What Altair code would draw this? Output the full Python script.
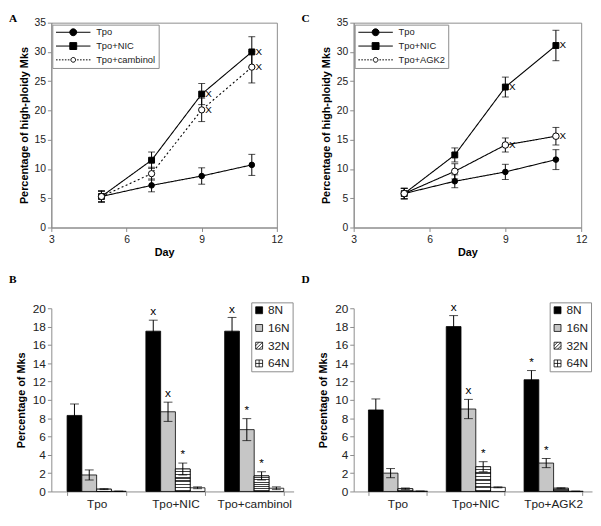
import altair as alt
import pandas as pd

SANS = "Liberation Sans"
SERIF = "Liberation Serif"
GRAY = "#8c8c8c"

# ---------------- Panels A / C : line charts ----------------
days = [5, 7, 9, 11]

A_series = ["Tpo", "Tpo+NIC", "Tpo+cambinol"]
A_tpo = [5.3, 7.2, 8.8, 10.7]
A_tpo_err = [1.0, 1.1, 1.4, 1.8]
A_nic = [5.3, 11.5, 22.8, 30.0]
A_nic_err = [0.9, 1.4, 1.8, 2.6]
A_cam = [5.3, 9.2, 20.1, 27.4]
A_cam_err = [0.9, 1.1, 2.0, 2.7]
A_sig_day = [9, 9, 11, 11]
A_sig_val = [22.8, 20.1, 30.0, 27.4]

C_series = ["Tpo", "Tpo+NIC", "Tpo+AGK2"]
C_tpo = [5.8, 7.9, 9.5, 11.6]
C_tpo_err = [0.9, 1.1, 1.3, 1.7]
C_nic = [5.8, 12.4, 24.0, 31.1]
C_nic_err = [0.9, 1.2, 1.7, 2.6]
C_agk = [5.8, 9.6, 14.1, 15.6]
C_agk_err = [0.9, 1.3, 1.2, 1.5]
C_sig_day = [9, 9, 11, 11]
C_sig_val = [24.0, 14.1, 31.1, 15.6]

line_ticks_x = [3, 6, 9, 12]
line_ticks_y = [0, 5, 10, 15, 20, 25, 30, 35]

# ---------------- Panels B / D : grouped bars ----------------
ploidy = ["8N", "16N", "32N", "64N"]

B_groups = ["Tpo", "Tpo+NIC", "Tpo+cambinol"]
B_means = [[8.3, 1.8, 0.25, 0.02], [17.5, 8.7, 2.45, 0.4], [17.5, 6.75, 1.7, 0.35]]
B_errs = [[1.25, 0.55, 0.05, 0.0], [1.2, 1.05, 0.65, 0.1], [1.5, 1.2, 0.45, 0.15]]
B_ann_group = ["Tpo+NIC", "Tpo+NIC", "Tpo+NIC", "Tpo+cambinol", "Tpo+cambinol", "Tpo+cambinol"]
B_ann_ploidy = ["8N", "16N", "32N", "8N", "16N", "32N"]
B_ann_text = ["x", "x", "*", "x", "*", "*"]

D_groups = ["Tpo", "Tpo+NIC", "Tpo+AGK2"]
D_means = [[8.9, 2.0, 0.3, 0.03], [18.0, 9.0, 2.7, 0.45], [12.2, 3.1, 0.35, 0.02]]
D_errs = [[1.2, 0.5, 0.08, 0.0], [1.2, 1.05, 0.55, 0.05], [1.0, 0.5, 0.05, 0.0]]
D_ann_group = ["Tpo+NIC", "Tpo+NIC", "Tpo+NIC", "Tpo+AGK2", "Tpo+AGK2"]
D_ann_ploidy = ["8N", "16N", "32N", "8N", "16N"]
D_ann_text = ["x", "x", "*", "*", "*"]

bar_ticks_y = [0, 2, 4, 6, 8, 10, 12, 14, 16, 18, 20]


def circle_path(cx, r):
    k = 0.5523 * r
    return (f"M{cx + r},0C{cx + r},{k} {cx + k},{r} {cx},{r}"
            f"C{cx - k},{r} {cx - r},{k} {cx - r},0"
            f"C{cx - r},{-k} {cx - k},{-r} {cx},{-r}"
            f"C{cx + k},{-r} {cx + r},{-k} {cx + r},0Z")


# legend symbol paths (line stub + marker), drawn in symbol units
LINE_PATHS = [
    "M-1,0H7.75" + circle_path(3.375, 0.875),
    "M-1,0H7.75M2.5,-0.875H4.25V0.875H2.5Z",
    "M-1,0H-0.6M-0.25,0H0.15M0.5,0H0.9M1.25,0H1.65M2.0,0H2.4M4.35,0H4.75M5.1,0H5.5"
    "M5.85,0H6.25M6.6,0H7.0M7.35,0H7.75" + circle_path(3.375, 0.6),
]
BAR_PATHS = [
    "M-1,-1H1V1H-1Z",
    "M-1,-1H1V1H-1Z",
    "M-1,-1H1V1H-1ZM-1,0L0,-1M-1,1L1,-1M0,1L1,0",
    "M-1,-1H1V1H-1ZM0,-1V1M-1,0H1",
]
BAR_FILLS = ["black", "#c6c6c6", "white", "white"]

# hatch-like gradient for the 32N bars
stops = []
n_str = 7
for i in range(n_str):
    a = i / n_str
    b = (i + 0.55) / n_str
    c = (i + 1) / n_str
    stops += [alt.GradientStop(color="white", offset=a), alt.GradientStop(color="white", offset=b),
              alt.GradientStop(color="#404040", offset=b), alt.GradientStop(color="#404040", offset=c)]
HATCH = alt.LinearGradient(gradient="linear", stops=stops, x1=0, y1=0, x2=0, y2=1)


def letter_layer(letter, dx, dy):
    return alt.Chart(pd.DataFrame({"t": [letter]})).mark_text(
        align="left", baseline="top", font=SERIF, fontWeight="bold", fontSize=11.5, color="black"
    ).encode(x=alt.value(dx), y=alt.value(dy), text="t:N")


def line_panel(letter, series, means, errs, sig_day, sig_val, width, height, letter_dx):
    rows = []
    for s, m, e in zip(series, means, errs):
        for d, v, er in zip(days, m, e):
            rows.append({"day": d, "series": s, "value": v, "lo": v - er, "hi": v + er})
    df = pd.DataFrame(rows)
    sig = pd.DataFrame({"day": sig_day, "value": sig_val, "lab": ["X"] * len(sig_day)})

    xaxis = alt.Axis(values=line_ticks_x, labelFlush=False, grid=False, tickSize=4, labelPadding=3,
                     titlePadding=2, title="Day", labelFontSize=10.5)
    yaxis = alt.Axis(values=line_ticks_y, grid=False, tickSize=4, labelPadding=2, titlePadding=5,
                     title="Percentage of high-ploidy Mks", labelFontSize=10.5)
    xs = alt.Scale(domain=[3, 12], nice=False, zero=False)
    ys = alt.Scale(domain=[0, 35], nice=False)

    def X(f):
        return alt.X(f"{f}:Q", scale=xs, axis=xaxis)

    def Y(f):
        return alt.Y(f"{f}:Q", scale=ys, axis=yaxis)

    base = alt.Chart(df)
    rule = base.mark_rule(color="black", strokeWidth=1).encode(x=X("day"), y=Y("lo"), y2="hi:Q")
    cap_lo = base.mark_tick(orient="horizontal", color="black", size=7, thickness=1).encode(x=X("day"), y=Y("lo"))
    cap_hi = base.mark_tick(orient="horizontal", color="black", size=7, thickness=1).encode(x=X("day"), y=Y("hi"))
    lines = base.mark_line(color="black", strokeWidth=1.1).encode(
        x=X("day"), y=Y("value"), detail="series:N",
        strokeDash=alt.StrokeDash("series:N", scale=alt.Scale(domain=series, range=[[1, 0], [1, 0], [2, 2.5]]),
                                  legend=None),
    )
    pts = base.mark_point(stroke="black", strokeWidth=1, opacity=1).encode(
        x=X("day"), y=Y("value"),
        shape=alt.Shape("series:N", scale=alt.Scale(domain=series, range=["circle", "square", "circle"]), legend=None),
        fill=alt.Fill("series:N", scale=alt.Scale(domain=series, range=["black", "black", "white"]), legend=None),
        size=alt.Size("series:N", scale=alt.Scale(domain=series, range=[32, 44, 26]), legend=None),
    )
    sigt = alt.Chart(sig).mark_text(dx=7, fontSize=10, font=SANS, color="black").encode(
        x=X("day"), y=Y("value"), text="lab:N")

    leg = alt.Legend(title=None, orient="none", legendX=1, legendY=2, fillColor="white", strokeColor=GRAY,
                     padding=3, rowPadding=2, labelFont=SANS, labelFontSize=9.5, labelColor="#222",
                     labelOffset=32, symbolStrokeColor="black", symbolStrokeWidth=1, symbolSize=64,
                     symbolOpacity=1)
    legl = base.transform_calculate(leg="datum.series").transform_filter("false").mark_point(
        size=64, strokeWidth=1, opacity=1
    ).encode(
        shape=alt.Shape("leg:N", scale=alt.Scale(domain=series, range=LINE_PATHS), legend=leg),
        fill=alt.Fill("leg:N", scale=alt.Scale(domain=series, range=["black", "black", "white"]), legend=leg),
        stroke=alt.Stroke("leg:N", scale=alt.Scale(domain=series, range=["black", "black", "black"]), legend=leg),
    )
    return alt.layer(rule, cap_lo, cap_hi, lines, pts, sigt, legl, letter_layer(letter, letter_dx, -10)).resolve_scale(
        shape="independent", fill="independent", stroke="independent"
    ).properties(width=width, height=height, view=alt.ViewBackground(stroke=GRAY, strokeWidth=1))


def bar_panel(letter, groups, means, errs, ann_g, ann_p, ann_t, width, height, letter_dx,
              pad_in, pad_out, band_align, leg_x):
    rows = []
    for g, m, e in zip(groups, means, errs):
        for p, v, er in zip(ploidy, m, e):
            rows.append({"group": g, "ploidy": p, "value": v, "lo": v - er, "hi": v + er})
    df = pd.DataFrame(rows)
    ann = pd.DataFrame({"group": ann_g, "ploidy": ann_p, "lab": ann_t}).merge(df, on=["group", "ploidy"])

    xaxis = alt.Axis(title=None, labelAngle=0, tickBand="extent", tickSize=4, labelPadding=3, grid=False,
                     labelFontSize=12)
    yaxis = alt.Axis(values=bar_ticks_y, grid=False, tickSize=4, labelPadding=2, titlePadding=6,
                     title="Percentage of Mks", labelFontSize=12)
    xs = alt.Scale(domain=groups, paddingInner=pad_in, paddingOuter=pad_out, align=band_align)
    xo = alt.XOffset("ploidy:N", scale=alt.Scale(domain=ploidy, paddingInner=0, paddingOuter=0))
    ys = alt.Scale(domain=[0, 20], nice=False)

    X = alt.X("group:N", scale=xs, axis=xaxis)

    def Y(f):
        return alt.Y(f"{f}:Q", scale=ys, axis=yaxis)

    base = alt.Chart(df)
    bars = base.mark_bar(stroke="black", strokeWidth=0.8).encode(
        x=X, xOffset=xo, y=Y("value"),
        fill=alt.Fill("ploidy:N", scale=alt.Scale(domain=ploidy, range=BAR_FILLS), legend=None),
    )
    hatch = base.transform_filter("datum.ploidy == '32N'").mark_bar(
        fill=HATCH, stroke="black", strokeWidth=0.8).encode(x=X, xOffset=xo, y=Y("value"))
    rule = base.mark_rule(color="black", strokeWidth=1).encode(x=X, xOffset=xo, y=Y("lo"), y2="hi:Q")
    cap_lo = base.mark_tick(orient="horizontal", color="black", size=9, thickness=1).encode(
        x=X, xOffset=xo, y=Y("lo"))
    cap_hi = base.mark_tick(orient="horizontal", color="black", size=9, thickness=1).encode(
        x=X, xOffset=xo, y=Y("hi"))
    annt = alt.Chart(ann).mark_text(baseline="bottom", dy=-2, fontSize=12, font=SANS, color="black").encode(
        x=X, xOffset=xo, y=Y("hi"), text="lab:N")

    leg = alt.Legend(title=None, orient="none", legendX=leg_x, legendY=-6, fillColor="white", strokeColor=GRAY,
                     padding=2, rowPadding=6, labelFont=SANS, labelFontSize=12, labelColor="#222",
                     labelOffset=3, symbolStrokeColor="black", symbolStrokeWidth=0.8, symbolSize=49,
                     symbolOpacity=1)
    legl = base.transform_calculate(pl="datum.ploidy").transform_filter("false").mark_point(
        size=49, strokeWidth=0.8, opacity=1
    ).encode(
        shape=alt.Shape("pl:N", scale=alt.Scale(domain=ploidy, range=BAR_PATHS), legend=leg),
        fill=alt.Fill("pl:N", scale=alt.Scale(domain=ploidy, range=BAR_FILLS), legend=leg),
        stroke=alt.Stroke("pl:N", scale=alt.Scale(domain=ploidy, range=["black"] * 4), legend=leg),
    )
    return alt.layer(bars, hatch, rule, cap_lo, cap_hi, annt, legl, letter_layer(letter, letter_dx, -35)).resolve_scale(
        shape="independent", fill="independent", stroke="independent"
    ).properties(width=width, height=height, view=alt.ViewBackground(stroke="transparent"))


pA = line_panel("A", A_series, [A_tpo, A_nic, A_cam], [A_tpo_err, A_nic_err, A_cam_err], A_sig_day, A_sig_val,
                229, 208, -43)
pC = line_panel("C", C_series, [C_tpo, C_nic, C_agk], [C_tpo_err, C_nic_err, C_agk_err], C_sig_day, C_sig_val,
                231, 208, -53)
pB = bar_panel("B", B_groups, B_means, B_errs, B_ann_group, B_ann_ploidy, B_ann_text, 246, 186, -43,
               0.25, 0.1625, 0.615, 203)
pD = bar_panel("D", D_groups, D_means, D_errs, D_ann_group, D_ann_ploidy, D_ann_text, 242, 186, -53,
               0.253, 0.158, 0.6, 199)

chart = alt.ConcatChart(
    concat=[pA, pC, pB, pD], columns=2, align="none",
    spacing=alt.RowColnumber(row=15, column=6),
).properties(padding=0, background="white").configure_axis(
    labelFont=SANS, labelFontSize=11, labelColor="#222", titleFont=SANS, titleFontSize=11,
    titleFontWeight="bold", titleColor="black", domainColor=GRAY, tickColor=GRAY,
).configure_legend(labelLimit=200)

chart.save("out.html", embed_options={"renderer": "svg", "actions": False})
